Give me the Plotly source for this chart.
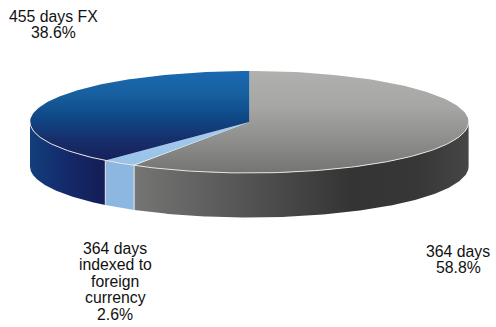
import numpy as np
import plotly.graph_objects as go

# Share of issuance by instrument, clockwise from twelve o'clock
slice_names = ["364 days", "364 days indexed to foreign currency", "455 days FX"]
slice_shares = [58.8, 2.6, 38.6]

label_lines = [
    ["455 days FX", "38.6%"],
    ["364 days", "indexed to", "foreign", "currency", "2.6%"],
    ["364 days", "58.8%"],
]

# Disc geometry, in page pixels
CX, CY, RX, RY, DEPTH = 249.3, 122.0, 219.3, 51.0, 44.5
W, H = 496, 327

# Top-face shades, listed from the highest edge of the slice to its lowest
top_scales = [
    [[0, "#b0b0ae"], [0.35, "#a6a6a4"], [0.7, "#8c8c8b"], [1, "#747473"]],
    [[0, "#a4cbee"], [1, "#98c2e8"]],
    [[0, "#1b69b1"], [0.25, "#17609f"], [0.5, "#0f4a88"], [0.75, "#16306d"], [1, "#17205a"]],
]
side_scales = [
    [[0, "#757674"], [0.3, "#565756"], [0.65, "#333433"], [0.85, "#363736"], [1, "#454645"]],
    [[0, "#8db6e0"], [1, "#8db6e0"]],
    [[0, "#123f7c"], [0.5, "#14296a"], [1, "#151d56"]],
]


def flipped(scale):
    """Vertical fill gradients run upward on the page, so invert the stops."""
    return [[1 - p, c] for p, c in reversed(scale)]


def rim(a0, a1, drop=0.0, n=160):
    """Points along the disc edge between two clockwise angles (radians from north)."""
    a = np.linspace(a0, a1, n)
    return CX + RX * np.sin(a), CY - RY * np.cos(a) + drop


fractions = np.array(slice_shares) / sum(slice_shares)
ends = np.cumsum(fractions) * 2 * np.pi
starts = np.r_[0.0, ends[:-1]]

fig = go.Figure()

# Visible outer wall: only the front half of the disc (90° to 270°)
for s, e, scale, name in zip(starts, ends, side_scales, slice_names):
    lo, hi = max(s, np.pi / 2), min(e, 3 * np.pi / 2)
    if hi <= lo:
        continue
    tx, ty = rim(lo, hi)
    bx, by = rim(hi, lo, DEPTH)
    fig.add_trace(go.Scatter(
        x=np.r_[tx, bx], y=np.r_[ty, by], mode="lines", line=dict(width=0),
        fill="toself", name=name,
        fillgradient=dict(type="horizontal", colorscale=scale),
    ))

# Top face of each slice
for s, e, scale, name in zip(starts, ends, top_scales, slice_names):
    ex, ey = rim(s, e)
    fig.add_trace(go.Scatter(
        x=np.r_[CX, ex, CX], y=np.r_[CY, ey, CY], mode="lines", line=dict(width=0),
        fill="toself", name=name,
        fillgradient=dict(type="vertical", colorscale=flipped(scale)),
    ))

# Thin highlights on the front rim and on the wall seams
rx_, ry_ = rim(np.pi / 2, 3 * np.pi / 2)
fig.add_trace(go.Scatter(x=rx_, y=ry_, mode="lines", line=dict(color="#e9e2de", width=1)))
for e in ends[:2]:
    tx, ty = rim(e, e, n=2)
    fig.add_trace(go.Scatter(x=tx, y=[ty[0], ty[0] + DEPTH], mode="lines",
                             line=dict(color="#dfe6ee", width=1)))

# Callout text: one anchor per label, lines stacked at a fixed leading
anchors = [(53, 16.0), (115, 248.0), (458, 251.0)]
LEADING = 16.5
for lines, (ax, ay) in zip(label_lines, anchors):
    for i, line in enumerate(lines):
        fig.add_annotation(x=ax, y=ay + i * LEADING, text=line, showarrow=False,
                           xanchor="center", yanchor="middle",
                           font=dict(family="Liberation Sans, Arial, sans-serif",
                                     size=15.8, color="#111111"))

fig.update_layout(
    width=W, height=H, margin=dict(l=0, r=0, t=0, b=0),
    paper_bgcolor="white", plot_bgcolor="white", showlegend=False, hovermode=False,
    xaxis=dict(range=[0, W], visible=False, fixedrange=True),
    yaxis=dict(range=[H, 0], visible=False, fixedrange=True),
)
fig.write_html("out.html", config={"displayModeBar": False})
